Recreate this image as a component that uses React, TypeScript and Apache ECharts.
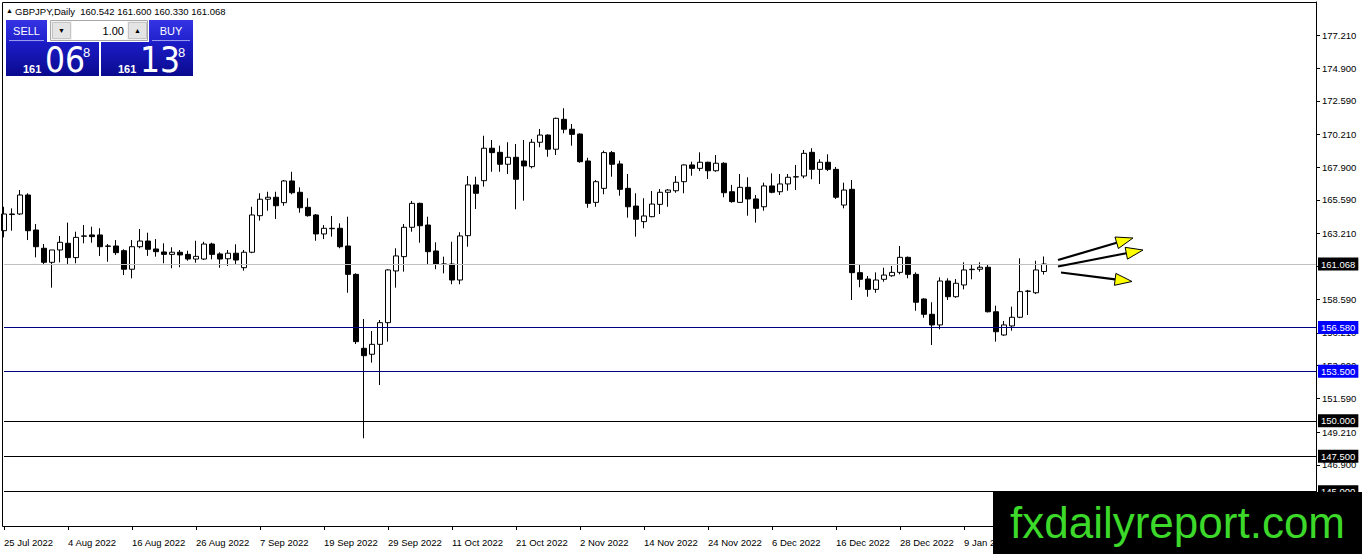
import React, { useEffect, useRef } from "react";
import * as echarts from "echarts";

// ---------- data ----------
const SYMBOL = "GBPJPY";
const PERIOD = "Daily";
const FIRST_DATE = "2022-07-25";
const SLOT_COUNT = 165; // bar slots visible on the time axis (incl. empty future space)
const LABEL_EVERY = 8;
const MONTHS = ["Jan", "Feb", "Mar", "Apr", "May", "Jun", "Jul", "Aug", "Sep", "Oct", "Nov", "Dec"];

// [open, close, low, high]
const CANDLES: number[][] = [
  [163.42, 164.60, 162.95, 165.11],
  [164.56, 164.60, 163.42, 165.00],
  [164.60, 165.94, 164.53, 166.29],
  [165.94, 163.42, 162.76, 166.06],
  [163.47, 162.29, 161.54, 163.89],
  [162.18, 161.19, 161.00, 162.48],
  [161.19, 162.06, 159.40, 162.06],
  [162.06, 162.60, 161.19, 163.05],
  [162.53, 161.52, 161.07, 163.99],
  [161.52, 162.95, 161.12, 163.35],
  [163.03, 163.05, 162.53, 163.82],
  [163.12, 163.00, 162.57, 163.70],
  [163.12, 162.29, 161.64, 163.59],
  [162.34, 162.32, 161.23, 162.48],
  [162.34, 161.87, 161.71, 162.76],
  [162.01, 160.70, 160.29, 162.11],
  [160.70, 162.29, 160.06, 162.76],
  [162.29, 162.69, 162.18, 163.54],
  [162.69, 162.11, 161.64, 163.28],
  [162.13, 161.94, 161.59, 162.83],
  [161.92, 161.75, 161.12, 162.53],
  [161.75, 161.90, 160.77, 162.25],
  [161.90, 161.71, 160.84, 162.06],
  [161.75, 161.42, 161.30, 162.01],
  [161.42, 161.61, 161.16, 162.71],
  [161.42, 162.48, 161.35, 162.64],
  [162.48, 161.75, 161.40, 162.57],
  [161.78, 161.42, 160.81, 161.90],
  [161.44, 161.83, 160.93, 162.06],
  [161.83, 161.35, 161.07, 162.46],
  [160.81, 161.90, 160.60, 162.06],
  [161.90, 164.53, 161.83, 165.11],
  [164.48, 165.64, 164.13, 166.06],
  [165.64, 165.78, 164.83, 166.17],
  [165.78, 165.18, 164.25, 166.17],
  [165.40, 166.93, 165.18, 167.00],
  [166.93, 166.10, 165.99, 167.58],
  [166.13, 165.04, 164.69, 166.48],
  [165.07, 164.48, 164.41, 165.71],
  [164.53, 163.19, 162.71, 164.60],
  [163.19, 163.59, 162.83, 163.82],
  [163.56, 163.59, 163.00, 164.46],
  [163.59, 162.29, 162.18, 163.94],
  [162.34, 160.34, 159.04, 164.41],
  [160.34, 155.59, 155.42, 160.41],
  [155.12, 154.60, 148.77, 157.19],
  [154.70, 155.40, 154.11, 156.34],
  [155.40, 156.93, 152.53, 157.12],
  [156.93, 160.65, 155.59, 160.70],
  [160.58, 161.64, 159.40, 162.18],
  [161.59, 163.66, 160.53, 163.89],
  [163.66, 165.35, 163.35, 165.52],
  [165.35, 163.77, 162.57, 165.40],
  [163.82, 161.94, 161.00, 164.41],
  [161.99, 161.07, 160.70, 162.60],
  [161.05, 161.07, 160.41, 161.59],
  [161.07, 159.94, 159.64, 162.64],
  [159.94, 163.05, 159.64, 163.31],
  [163.07, 166.65, 162.29, 167.28],
  [166.65, 166.06, 164.95, 167.23],
  [166.95, 169.24, 166.53, 170.12],
  [169.24, 168.93, 167.58, 169.82],
  [168.95, 168.11, 167.58, 169.42],
  [168.11, 168.60, 167.42, 169.66],
  [168.60, 167.05, 164.93, 169.54],
  [168.34, 167.99, 165.54, 169.82],
  [167.94, 169.66, 167.82, 169.89],
  [169.66, 170.17, 169.31, 170.60],
  [170.17, 169.17, 168.64, 170.22],
  [169.17, 171.35, 168.76, 171.40],
  [171.28, 170.58, 170.29, 172.06],
  [170.58, 170.22, 169.42, 170.95],
  [170.24, 168.29, 168.22, 170.29],
  [168.34, 165.35, 165.04, 168.57],
  [165.42, 166.88, 165.11, 167.00],
  [166.41, 168.93, 165.99, 169.07],
  [168.93, 168.11, 167.23, 169.05],
  [168.13, 166.34, 165.89, 168.36],
  [166.41, 165.11, 164.34, 167.42],
  [165.16, 164.23, 163.00, 166.06],
  [164.06, 164.46, 163.59, 165.71],
  [164.41, 165.30, 164.37, 166.22],
  [165.28, 166.13, 164.60, 166.36],
  [166.13, 166.29, 165.11, 166.36],
  [166.24, 166.84, 166.10, 167.28],
  [166.88, 168.06, 166.06, 168.10],
  [168.06, 167.82, 167.30, 168.29],
  [167.82, 168.25, 167.63, 168.95],
  [168.25, 167.65, 167.07, 168.29],
  [167.65, 168.18, 167.58, 168.76],
  [168.18, 166.10, 165.78, 168.25],
  [166.17, 165.47, 165.40, 166.65],
  [165.42, 166.48, 165.38, 167.42],
  [166.48, 165.66, 164.48, 167.19],
  [165.66, 165.00, 163.99, 165.94],
  [165.11, 166.58, 164.83, 166.81],
  [166.58, 166.13, 166.06, 167.47],
  [166.17, 166.72, 165.94, 167.42],
  [166.72, 167.19, 166.24, 167.42],
  [167.21, 167.23, 166.29, 168.06],
  [167.28, 168.88, 167.12, 169.12],
  [168.95, 167.75, 167.05, 169.24],
  [167.75, 168.25, 166.72, 168.46],
  [168.25, 167.75, 167.63, 168.81],
  [167.75, 165.78, 165.66, 167.92],
  [165.23, 166.29, 165.00, 166.81],
  [166.34, 160.46, 158.53, 167.00],
  [160.46, 159.99, 159.43, 161.00],
  [160.01, 159.28, 158.76, 160.22],
  [159.28, 159.94, 159.04, 160.48],
  [159.99, 160.29, 159.82, 160.81],
  [160.24, 160.48, 160.17, 160.93],
  [160.48, 161.54, 160.34, 162.34],
  [161.54, 160.34, 160.06, 161.60],
  [160.34, 158.37, 157.77, 160.48],
  [158.60, 157.52, 157.28, 158.65],
  [157.52, 156.77, 155.35, 158.37],
  [156.77, 159.87, 156.46, 160.13],
  [159.87, 158.76, 158.53, 160.06],
  [158.76, 159.71, 158.69, 160.01],
  [159.59, 160.65, 159.28, 161.19],
  [160.67, 160.70, 159.99, 161.00],
  [160.70, 160.84, 160.53, 161.19],
  [160.84, 157.70, 157.65, 161.00],
  [157.70, 156.29, 155.59, 158.13],
  [156.06, 156.77, 156.00, 157.05],
  [156.70, 157.31, 156.36, 158.06],
  [157.31, 159.12, 157.25, 161.47],
  [159.14, 159.16, 157.47, 159.24],
  [159.04, 160.65, 158.95, 161.30],
  [160.542, 161.068, 160.33, 161.6],
];

const Y_MIN = 142.58;
const Y_MAX = 179.56;
const PRICE_TICKS = [177.21, 174.9, 172.59, 170.21, 167.9, 165.59, 163.21, 160.9, 158.59, 156.21, 153.9, 151.59, 149.21, 146.9, 144.59];

const LEVELS = [161.068, 156.58, 153.5, 150.0, 147.5, 145.0];
const LEVEL_LINE_COLORS = ["#c0c0c0", "#000080", "#000080", "#000000", "#000000", "#000000"];
const LEVEL_LABEL_COLORS = ["#000000", "#0000ff", "#0000ff", "#000000", "#000000", "#000000"];

const BID = 161.068;
const ASK = 161.138;
const LOT = "1.00";
const WATERMARK = "fxdailyreport.com";

// ---------- layout ----------
const W = 1362;
const H = 554;
const PLOT_L = 2;
const PLOT_T = 2;
const PLOT_R = 1316;
const PLOT_B = 526;
const FIRST_BAR_X = 4;
const BAR_STEP = 8;
const BOX_X = 993;
const BOX_Y = 492;
const FONT = "'Liberation Sans', Arial, sans-serif";
const NARROW = "'Liberation Sans Narrow', 'DejaVu Sans Condensed', 'Liberation Sans', sans-serif";

const ARROWS = [
  { from: [1058, 260], to: [1133, 238] },
  { from: [1058, 266.5], to: [1143, 250] },
  { from: [1061, 272.5], to: [1132, 281.5] },
];

function weekdayLabels(start: string, n: number): string[] {
  const out: string[] = [];
  const d = new Date(start + "T00:00:00Z");
  while (out.length < n) {
    const wd = d.getUTCDay();
    if (wd !== 0 && wd !== 6) out.push(`${d.getUTCDate()} ${MONTHS[d.getUTCMonth()]} ${d.getUTCFullYear()}`);
    d.setUTCDate(d.getUTCDate() + 1);
  }
  return out;
}

function arrowElements(a: { from: number[]; to: number[] }) {
  const [x1, y1] = a.from;
  const [x2, y2] = a.to;
  const len = Math.hypot(x2 - x1, y2 - y1);
  const dx = (x2 - x1) / len;
  const dy = (y2 - y1) / len;
  const hl = 17;
  const hw = 6;
  const bx = x2 - dx * hl;
  const by = y2 - dy * hl;
  const nx = -dy;
  const ny = dx;
  return [
    { type: "line", shape: { x1, y1, x2: bx, y2: by }, style: { stroke: "#000", lineWidth: 2.2 }, z: 100 },
    {
      type: "polygon",
      shape: { points: [[x2, y2], [bx + nx * hw, by + ny * hw], [bx - nx * hw, by - ny * hw]] },
      style: { fill: "#ffff00", stroke: "#000", lineWidth: 1 },
      z: 101,
    },
  ];
}

function quoteBox(price: number, x: number, w: number) {
  const s = price.toFixed(3);
  const big = s.slice(0, 3);
  const pips = s.slice(4, 6);
  const last = s.slice(6);
  return [
    {
      type: "rect",
      shape: { x, y: 42, width: w, height: 34 },
      style: {
        fill: { type: "linear", x: 0, y: 0, x2: 0, y2: 1, colorStops: [{ offset: 0, color: "#1c1cc8" }, { offset: 1, color: "#0a0a8e" }] },
      },
      z: 110,
    },
    { type: "text", x: x + 17, y: 69, style: { text: big, fill: "#fff", font: `bold 11px ${FONT}`, align: "left", verticalAlign: "middle" }, z: 111 },
    { type: "text", x: x + 39, y: 59.5, style: { text: pips, fill: "#fff", font: `35px ${NARROW}`, align: "left", verticalAlign: "middle" }, z: 111 },
    { type: "text", x: x + 77, y: 52, style: { text: last, fill: "#fff", font: `13px ${FONT}`, align: "left", verticalAlign: "middle" }, z: 111 },
  ];
}

function button(label: string, x: number, w: number) {
  return [
    {
      type: "rect",
      shape: { x, y: 20, width: w, height: 22 },
      style: {
        fill: { type: "linear", x: 0, y: 0, x2: 0, y2: 1, colorStops: [{ offset: 0, color: "#3434e4" }, { offset: 1, color: "#2020cc" }] },
      },
      z: 110,
    },
    { type: "line", shape: { x1: x + 3, y1: 40.5, x2: x + w - 3, y2: 40.5 }, style: { stroke: "#9a9aec", lineWidth: 1 }, z: 111 },
    { type: "text", x: x + w / 2, y: 30.5, style: { text: label, fill: "#fff", font: `11px ${FONT}`, align: "center", verticalAlign: "middle" }, z: 111 },
  ];
}

export default function App() {
  const ref = useRef<HTMLDivElement>(null);

  useEffect(() => {
    if (!ref.current) return;
    document.body.style.margin = "0";
    const chart = echarts.init(ref.current, null, { renderer: "svg", width: W, height: H });

    const dates = weekdayLabels(FIRST_DATE, SLOT_COUNT);
    const lastBar = CANDLES[CANDLES.length - 1];
    const header = `${SYMBOL},${PERIOD}  ${[lastBar[0], lastBar[3], lastBar[2], lastBar[1]].map((v) => v.toFixed(3)).join(" ")}`;

    const graphics: any[] = [
      {
        type: "rect",
        shape: { x: PLOT_L + 0.5, y: PLOT_T + 0.5, width: PLOT_R - PLOT_L, height: PLOT_B - PLOT_T },
        style: { fill: "none", stroke: "#000", lineWidth: 1 },
        z: 50,
      },
      { type: "text", x: 9.5, y: 10.5, style: { text: "▲", fill: "#000", font: `7px ${FONT}`, align: "center", verticalAlign: "middle" }, z: 111 },
      { type: "text", x: 15, y: 11, style: { text: header, fill: "#000", font: `9.5px ${FONT}`, align: "left", verticalAlign: "middle" }, z: 111 },
      ...button("SELL", 6, 41),
      ...button("BUY", 149, 44),
      { type: "rect", shape: { x: 50.5, y: 20.5, width: 97, height: 20 }, style: { fill: "#f2f2f2", stroke: "#a8a8a8", lineWidth: 1 }, z: 110 },
      { type: "rect", shape: { x: 52.5, y: 22.5, width: 18, height: 16 }, style: { fill: "#e4e4e4", stroke: "#c4c4c4", lineWidth: 1 }, z: 111 },
      { type: "rect", shape: { x: 72, y: 21, width: 55, height: 19 }, style: { fill: "#ffffff" }, z: 111 },
      { type: "rect", shape: { x: 128.5, y: 22.5, width: 18, height: 16 }, style: { fill: "#e4e4e4", stroke: "#c4c4c4", lineWidth: 1 }, z: 111 },
      { type: "text", x: 61.5, y: 30.5, style: { text: "▼", fill: "#000", font: `7px ${FONT}`, align: "center", verticalAlign: "middle" }, z: 112 },
      { type: "text", x: 137.5, y: 30, style: { text: "▲", fill: "#000", font: `7px ${FONT}`, align: "center", verticalAlign: "middle" }, z: 112 },
      { type: "text", x: 124, y: 30.5, style: { text: LOT, fill: "#000", font: `11px ${FONT}`, align: "right", verticalAlign: "middle" }, z: 112 },
      ...quoteBox(BID, 6, 93),
      ...quoteBox(ASK, 101, 92),
      ...ARROWS.flatMap(arrowElements),
      { type: "rect", shape: { x: BOX_X, y: BOX_Y, width: W - BOX_X, height: H - BOX_Y }, style: { fill: "#000" }, z: 120 },
      { type: "text", x: 1010, y: 522, style: { text: WATERMARK, fill: "#3cd82a", font: `44px ${FONT}`, align: "left", verticalAlign: "middle" }, z: 121 },
    ];

    const option: any = {
      animation: false,
      backgroundColor: "#ffffff",
      grid: { left: FIRST_BAR_X, right: W - PLOT_R, top: PLOT_T, bottom: H - PLOT_B, containLabel: false },
      xAxis: {
        type: "category",
        data: dates,
        boundaryGap: false,
        axisLine: { show: true, lineStyle: { color: "#000", width: 1 } },
        axisTick: { show: true, interval: LABEL_EVERY - 1, length: 4, lineStyle: { color: "#000" } },
        axisLabel: {
          interval: LABEL_EVERY - 1,
          align: "left",
          margin: 11,
          color: "#000",
          fontSize: 9.5,
          fontFamily: FONT,
          // labels that would sit entirely beneath the watermark box are left blank
          formatter: (v: string, i: number) => (FIRST_BAR_X + i * BAR_STEP < BOX_X ? v : ""),
        },
        splitLine: { show: false },
      },
      yAxis: {
        type: "value",
        position: "right",
        min: Y_MIN,
        max: Y_MAX,
        axisLine: { show: true, lineStyle: { color: "#000", width: 1 } },
        axisTick: { show: true, length: 4, customValues: PRICE_TICKS, lineStyle: { color: "#000" } },
        axisLabel: {
          customValues: PRICE_TICKS,
          formatter: (v: number) => Number(v).toFixed(3),
          margin: 6,
          color: "#000",
          fontSize: 9.5,
          fontFamily: FONT,
        },
        splitLine: { show: false },
      },
      series: [
        {
          type: "candlestick",
          data: CANDLES,
          barWidth: 5,
          clip: false,
          itemStyle: { color: "#ffffff", color0: "#000000", borderColor: "#000000", borderColor0: "#000000", borderWidth: 1 },
          markLine: {
            silent: true,
            symbol: ["none", "none"],
            animation: false,
            label: {
              show: true,
              position: "end",
              distance: 2,
              formatter: (p: any) => LEVELS[p.dataIndex].toFixed(3),
              color: "#fff",
              fontSize: 9.5,
              fontFamily: FONT,
              padding: [2, 3, 1, 3],
            },
            data: LEVELS.map((v, i) => ({
              yAxis: v,
              lineStyle: { color: LEVEL_LINE_COLORS[i], width: 1, type: "solid" },
              label: { backgroundColor: LEVEL_LABEL_COLORS[i] },
            })),
          },
        },
      ],
      graphic: { elements: graphics },
    };

    chart.setOption(option);
    return () => chart.dispose();
  }, []);

  return <div ref={ref} style={{ position: "absolute", left: 0, top: 0, width: W, height: H }} />;
}
